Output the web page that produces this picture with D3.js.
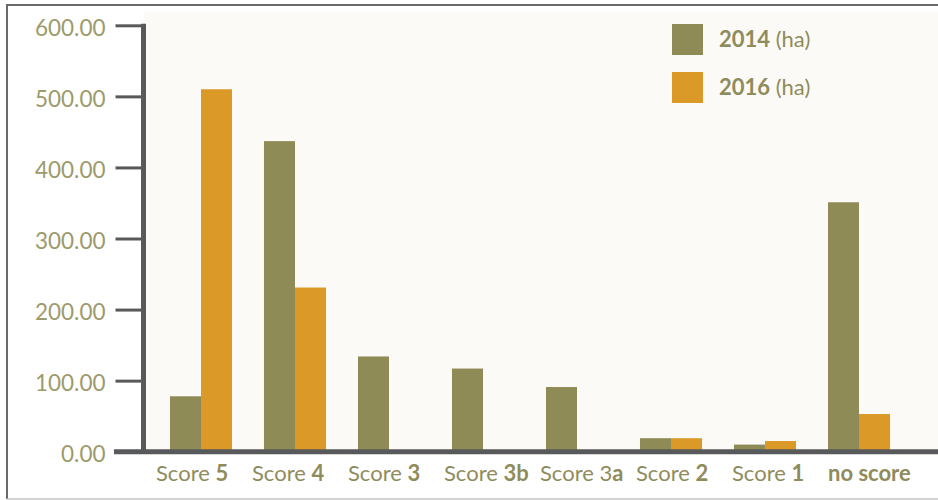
<!DOCTYPE html>
<html>
<head>
<meta charset="utf-8">
<script src="https://cdn.jsdelivr.net/npm/d3@7"></script>
<style>
  html, body { margin: 0; padding: 0; background: #ffffff; }
  svg { display: block; font-family: Lato, "Open Sans", sans-serif; }
</style>
</head>
<body>
<svg id="chart" width="938" height="500"></svg>
<script>
// ---- data ----
const categories = ["Score 5", "Score 4", "Score 3", "Score 3b", "Score 3a", "Score 2", "Score 1", "no score"];
const labelPlain = ["Score ", "Score ", "Score ", "Score ", "Score 3", "Score ", "Score ", ""];
const labelBold  = ["5", "4", "3", "3b", "a", "2", "1", "no score"];
const series = ["2014", "2016"];
const values2014 = [78, 437, 134, 117, 91, 19, 10, 351];
const values2016 = [510, 231, 0, 0, 0, 19, 15, 53];
const yTicks = [0, 100, 200, 300, 400, 500, 600];

const colors = { "2014": "#8e8b56", "2016": "#db9a27" };
const textColor = "#8f8b5b";
const tickTextColor = "#9d9a6b";
const axisColor = "#58595b";

const svg = d3.select("#chart");

// frame
svg.append("line").attr("x1", 7).attr("x2", 938).attr("y1", 5).attr("y2", 5)
  .attr("stroke", "#6a6a6a").attr("stroke-width", 2);
svg.append("line").attr("x1", 7).attr("x2", 7).attr("y1", 4).attr("y2", 499)
  .attr("stroke", "#6a6a6a").attr("stroke-width", 2);
svg.append("line").attr("x1", 7).attr("x2", 938).attr("y1", 499).attr("y2", 499)
  .attr("stroke", "#c4c4c4").attr("stroke-width", 1.5);

// plot background
svg.append("rect").attr("x", 144).attr("y", 12).attr("width", 794).attr("height", 440)
  .attr("fill", "#fbfaf6");

// scales
const y = d3.scaleLinear().domain([0, 600]).range([451.7, 25.3]);
const x0 = d3.scaleBand().domain(categories).range([146, 914]).paddingInner(0.34).paddingOuter(0.255);
const x1 = d3.scaleBand().domain(series).range([0, x0.bandwidth()]);
const xLabel = d3.scalePoint().domain(categories).range([156, 828]);

// bars
const rows = categories.map((c, i) => ({ cat: c, vals: [values2014[i], values2016[i]] }));
const g = svg.append("g");
const groups = g.selectAll("g.grp").data(rows).join("g")
  .attr("class", "grp")
  .attr("transform", d => `translate(${x0(d.cat)},0)`);
groups.selectAll("rect").data(d => d.vals.map((v, k) => ({ s: series[k], v })))
  .join("rect")
  .attr("x", d => x1(d.s))
  .attr("width", x1.bandwidth())
  .attr("y", d => y(d.v))
  .attr("height", d => y(0) - y(d.v))
  .attr("fill", d => colors[d.s]);

// y axis
const yAxis = d3.axisLeft(y).tickValues(yTicks).tickFormat(d3.format(".2f"))
  .tickSize(28).tickPadding(10);
const ya = svg.append("g").attr("transform", "translate(143.5,0)").call(yAxis);
ya.select(".domain").remove();
ya.selectAll(".tick line").attr("stroke", axisColor).attr("stroke-width", 3);
ya.selectAll(".tick text")
  .attr("fill", tickTextColor)
  .attr("font-size", 22.5)
  .attr("font-family", "Lato, sans-serif")
  .attr("dy", "0.45em");
svg.append("line").attr("x1", 143.5).attr("x2", 143.5).attr("y1", y(600) - 1.5).attr("y2", y(0))
  .attr("stroke", axisColor).attr("stroke-width", 5);

// x axis line
svg.append("line").attr("x1", 114).attr("x2", 938).attr("y1", y(0)).attr("y2", y(0))
  .attr("stroke", axisColor).attr("stroke-width", 5);

// x labels
const lbl = svg.append("g").selectAll("text").data(categories).join("text")
  .attr("x", d => xLabel(d))
  .attr("y", 481)
  .attr("fill", textColor)
  .attr("font-size", 22);
lbl.append("tspan").text((d, i) => labelPlain[i]);
lbl.append("tspan").attr("font-weight", "bold").text((d, i) => labelBold[i]);

// legend
const legend = svg.append("g");
const ly = d3.scalePoint().domain(series).range([24, 72]);
legend.selectAll("rect").data(series).join("rect")
  .attr("x", 672).attr("y", d => ly(d)).attr("width", 31).attr("height", 31)
  .attr("fill", d => colors[d]);
const lt = legend.selectAll("text").data(series).join("text")
  .attr("x", 719).attr("y", d => ly(d) + 23)
  .attr("fill", textColor).attr("font-size", 22);
lt.append("tspan").attr("font-weight", "bold").text(d => d);
lt.append("tspan").text(" (ha)");
</script>
</body>
</html>
